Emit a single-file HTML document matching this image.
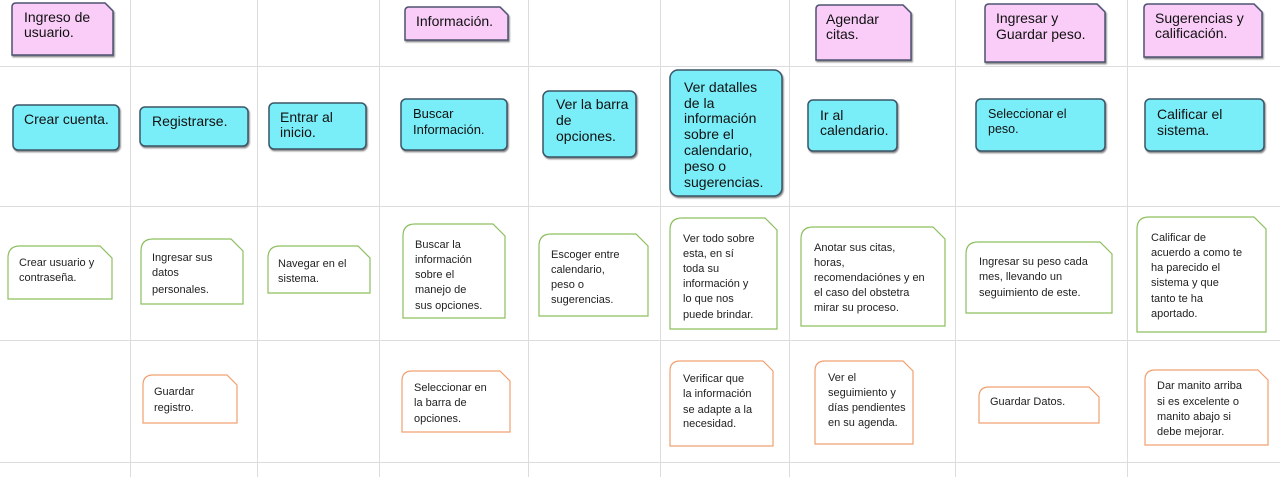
<!DOCTYPE html>
<html><head><meta charset="utf-8"><style>
html,body{margin:0;padding:0;background:#fff;width:1280px;height:477px;overflow:hidden}
.b{font-family:"Liberation Sans",Arial,sans-serif;font-size:14px;fill:#111}
.s{font-family:"Liberation Sans Narrow","Liberation Sans",sans-serif;font-size:11px;fill:#222}
</style></head><body>
<svg width="1280" height="477" viewBox="0 0 1280 477" xmlns="http://www.w3.org/2000/svg">
<defs><filter id="sh" x="-10%" y="-10%" width="130%" height="140%"><feDropShadow dx="1" dy="1.5" stdDeviation="0.8" flood-color="#333" flood-opacity="0.6"/></filter></defs>
<g stroke="#dcdcdc" stroke-width="1">
<line x1="130.5" y1="0" x2="130.5" y2="477"/><line x1="257.5" y1="0" x2="257.5" y2="477"/>
<line x1="379.5" y1="0" x2="379.5" y2="477"/><line x1="528.5" y1="0" x2="528.5" y2="477"/>
<line x1="660.5" y1="0" x2="660.5" y2="477"/><line x1="789.5" y1="0" x2="789.5" y2="477"/>
<line x1="955.5" y1="0" x2="955.5" y2="477"/><line x1="1127.5" y1="0" x2="1127.5" y2="477"/>
<line x1="0" y1="66.5" x2="1280" y2="66.5"/><line x1="0" y1="206.5" x2="1280" y2="206.5"/>
<line x1="0" y1="340.5" x2="1280" y2="340.5"/><line x1="0" y1="462.5" x2="1280" y2="462.5"/>
</g>
<g fill="#f9cdf8" stroke="#4d5270" stroke-width="1.5" filter="url(#sh)">
<path d="M16,3 L105,3 L113,11 L113,55 L12,55 L12,7 Q12,3 16,3Z"/>
<path d="M409,7 L500,7 L508,15 L508,40 L405,40 L405,11 Q405,7 409,7Z"/>
<path d="M820,5 L903,5 L911,13 L911,60 L816,60 L816,9 Q816,5 820,5Z"/>
<path d="M989,4 L1097,4 L1105,12 L1105,62 L985,62 L985,8 Q985,4 989,4Z"/>
<path d="M1148,4 L1254,4 L1262,12 L1262,57 L1144,57 L1144,8 Q1144,4 1148,4Z"/>
</g>
<g fill="#7aeef8" stroke="#3a5566" stroke-width="1.5" filter="url(#sh)">
<rect x="13" y="105" width="106" height="45" rx="5"/>
<rect x="140" y="107" width="108" height="39" rx="5"/>
<rect x="269" y="103" width="97" height="46" rx="5"/>
<rect x="401" y="99" width="106" height="51" rx="5"/>
<rect x="543" y="91" width="93" height="66" rx="6"/>
<rect x="670" y="70" width="112" height="126" rx="8"/>
<rect x="808" y="100" width="89" height="51" rx="5"/>
<rect x="976" y="99" width="129" height="52" rx="5"/>
<rect x="1145" y="99" width="119" height="52" rx="5"/>
</g>
<g fill="#fff" stroke="#8cbf5f" stroke-width="1.2">
<path d="M20,246 L100,246 L112,258 L112,299 L8,299 L8,258 Q8,246 20,246Z"/>
<path d="M153,239 L231,239 L243,251 L243,304 L141,304 L141,251 Q141,239 153,239Z"/>
<path d="M280,246 L358,246 L370,258 L370,293 L268,293 L268,258 Q268,246 280,246Z"/>
<path d="M415,224 L493,224 L505,236 L505,318 L403,318 L403,236 Q403,224 415,224Z"/>
<path d="M551,234 L636,234 L648,246 L648,316 L539,316 L539,246 Q539,234 551,234Z"/>
<path d="M682,218 L765,218 L777,230 L777,329 L670,329 L670,230 Q670,218 682,218Z"/>
<path d="M813,227 L933,227 L945,239 L945,326 L801,326 L801,239 Q801,227 813,227Z"/>
<path d="M978,242 L1100,242 L1112,254 L1112,313 L966,313 L966,254 Q966,242 978,242Z"/>
<path d="M1149,217 L1254,217 L1266,229 L1266,332 L1137,332 L1137,229 Q1137,217 1149,217Z"/>
</g>
<g fill="#fff" stroke="#f0a070" stroke-width="1.2">
<path d="M153,375 L227,375 L237,385 L237,423 L143,423 L143,385 Q143,375 153,375Z"/>
<path d="M412,371 L500,371 L510,381 L510,432 L402,432 L402,381 Q402,371 412,371Z"/>
<path d="M680,361 L763,361 L773,371 L773,446 L670,446 L670,371 Q670,361 680,361Z"/>
<path d="M825,361 L903,361 L913,371 L913,444 L815,444 L815,371 Q815,361 825,361Z"/>
<path d="M989,387 L1089,387 L1099,397 L1099,423 L979,423 L979,397 Q979,387 989,387Z"/>
<path d="M1155,370 L1258,370 L1268,380 L1268,445 L1145,445 L1145,380 Q1145,370 1155,370Z"/>
</g>
<g class="b">
<text x="24" y="22">Ingreso de</text><text x="24" y="37">usuario.</text>
<text x="416" y="26">Información.</text>
<text x="826" y="24">Agendar</text><text x="826" y="39">citas.</text>
<text x="996" y="23">Ingresar y</text><text x="996" y="39">Guardar peso.</text>
<text x="1155" y="23">Sugerencias y</text><text x="1155" y="38">calificación.</text>
<text x="24" y="124">Crear cuenta.</text>
<text x="152" y="126">Registrarse.</text>
<text x="280" y="122">Entrar al</text><text x="280" y="137">inicio.</text>
<text x="413" y="118" style="font-size:13px">Buscar</text><text x="413" y="134" style="font-size:13px">Información.</text>
<text x="556" y="109">Ver la barra</text><text x="556" y="125">de</text><text x="556" y="141">opciones.</text>
<text x="684" y="92">Ver datalles</text><text x="684" y="108">de la</text><text x="684" y="123">información</text><text x="684" y="139">sobre el</text><text x="684" y="155">calendario,</text><text x="684" y="171">peso o</text><text x="684" y="187">sugerencias.</text>
<text x="820" y="120">Ir al</text><text x="820" y="135">calendario.</text>
<text x="988" y="118" style="font-size:12.5px">Seleccionar el</text><text x="988" y="133" style="font-size:12.5px">peso.</text>
<text x="1157" y="119">Calificar el</text><text x="1157" y="135">sistema.</text>
</g>
<g class="s">
<text x="19" y="266">Crear usuario y</text><text x="19" y="281">contraseña.</text>
<text x="152" y="261">Ingresar sus</text><text x="152" y="276">datos</text><text x="152" y="293">personales.</text>
<text x="278" y="267">Navegar en el</text><text x="278" y="282">sistema.</text>
<text x="415" y="248">Buscar la</text><text x="415" y="263">información</text><text x="415" y="278">sobre el</text><text x="415" y="293">manejo de</text><text x="415" y="309">sus opciones.</text>
<text x="551" y="258">Escoger entre</text><text x="551" y="273">calendario,</text><text x="551" y="288">peso o</text><text x="551" y="303">sugerencias.</text>
<text x="683" y="242">Ver todo sobre</text><text x="683" y="257">esta, en sí</text><text x="683" y="272">toda su</text><text x="683" y="287">información y</text><text x="683" y="302">lo que nos</text><text x="683" y="318">puede brindar.</text>
<text x="814" y="251">Anotar sus citas,</text><text x="814" y="266">horas,</text><text x="814" y="281">recomendaciónes y en</text><text x="814" y="296">el caso del obstetra</text><text x="814" y="311">mirar su proceso.</text>
<text x="979" y="265">Ingresar su peso cada</text><text x="979" y="280">mes, llevando un</text><text x="979" y="296">seguimiento de este.</text>
<text x="1151" y="241">Calificar de</text><text x="1151" y="256">acuerdo a como te</text><text x="1151" y="271">ha parecido el</text><text x="1151" y="286">sistema y que</text><text x="1151" y="302">tanto te ha</text><text x="1151" y="317">aportado.</text>
<text x="154" y="395">Guardar</text><text x="154" y="411">registro.</text>
<text x="414" y="391">Seleccionar en</text><text x="414" y="406">la barra de</text><text x="414" y="422">opciones.</text>
<text x="683" y="382">Verificar que</text><text x="683" y="397">la información</text><text x="683" y="413">se adapte a la</text><text x="683" y="427">necesidad.</text>
<text x="828" y="381">Ver el</text><text x="828" y="396">seguimiento y</text><text x="828" y="411">días pendientes</text><text x="828" y="426">en su agenda.</text>
<text x="990" y="405">Guardar Datos.</text>
<text x="1157" y="389">Dar manito arriba</text><text x="1157" y="405">si es excelente o</text><text x="1157" y="420">manito abajo si</text><text x="1157" y="435">debe mejorar.</text>
</g>
</svg>
</body></html>
